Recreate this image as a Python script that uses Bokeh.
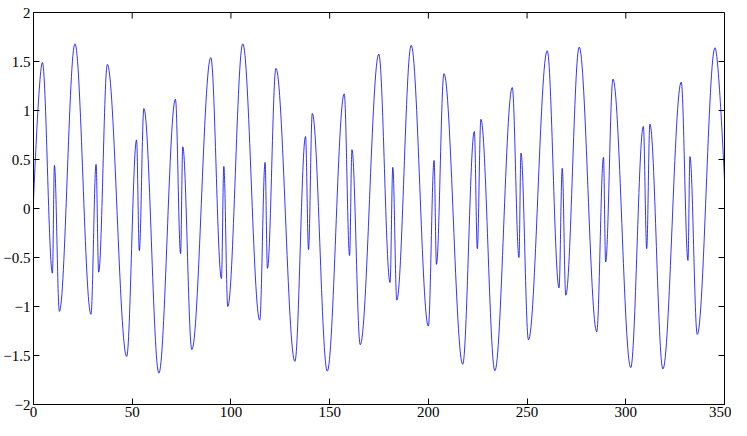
import numpy as np
from bokeh.plotting import figure
from bokeh.models import Range1d, FixedTicker, ColumnDataSource
from bokeh.embed import file_html
from bokeh.resources import INLINE

# turning points of the curve (start, extrema/spike tips, end)
signal_x = [0.0, 4.5, 9.6, 10.6, 13.1, 21.0, 29.1, 31.7, 33.0, 37.4,
            47.2, 52.2, 53.6, 55.9, 63.5, 71.9, 74.5, 75.6, 80.2, 89.8,
            95.2, 96.4, 98.4, 106.0, 114.6, 117.3, 118.5, 122.8, 132.4, 137.8,
            139.3, 141.2, 148.8, 157.4, 160.1, 161.3, 165.5, 174.9, 180.6, 182.0,
            184.0, 191.3, 200.0, 202.9, 204.1, 207.9, 217.4, 223.3, 224.8, 226.6,
            233.7, 242.5, 245.9, 246.9, 250.7, 260.2, 266.2, 267.8, 269.6, 276.4,
            285.3, 288.7, 289.8, 293.5, 302.5, 308.9, 310.6, 312.2, 318.8, 328.1,
            331.5, 332.5, 336.2, 345.2, 350.0]
signal_y = [0.08, 1.49, -0.66, 0.44, -1.05, 1.68, -1.08, 0.45, -0.65, 1.47,
            -1.51, 0.70, -0.43, 1.02, -1.68, 1.115, -0.46, 0.63, -1.44, 1.54,
            -0.715, 0.43, -1.00, 1.68, -1.14, 0.47, -0.61, 1.43, -1.56, 0.735,
            -0.42, 0.97, -1.66, 1.17, -0.48, 0.60, -1.39, 1.575, -0.755, 0.42,
            -0.935, 1.665, -1.20, 0.49, -0.57, 1.376, -1.59, 0.786, -0.41, 0.91,
            -1.655, 1.234, -0.50, 0.566, -1.34, 1.61, -0.81, 0.41, -0.885, 1.647,
            -1.258, 0.522, -0.546, 1.32, -1.624, 0.837, -0.41, 0.861, -1.637, 1.29,
            -0.53, 0.529, -1.285, 1.64, 0.29]

x_ticks = [0, 50, 100, 150, 200, 250, 300, 350]
x_tick_labels = ["0", "50", "100", "150", "200", "250", "300", "350"]
y_ticks = [-2, -1.5, -1, -0.5, 0, 0.5, 1, 1.5, 2]
y_tick_labels = ["\u22122", "\u22121.5", "\u22121", "\u22120.5", "0", "0.5", "1", "1.5", "2"]

FONT = "Liberation Sans Narrow"
FSIZE = "15px"
X_MIN, X_MAX = x_ticks[0], x_ticks[-1]
Y_MIN, Y_MAX = y_ticks[0], y_ticks[-1]

xs = np.array(signal_x, dtype=float)
ys = np.array(signal_y, dtype=float)
k = 0.36
x0, x1 = xs[:-1], xs[1:]
y0, y1 = ys[:-1], ys[1:]
dx = x1 - x0
cx0 = x0 + k * dx
cy0 = y0.copy()
cx1 = x1 - k * dx
cy1 = y1.copy()
# the first and last points are not turning points
cx0[0], cy0[0] = x0[0], y0[0]
cx1[-1], cy1[-1] = x1[-1], y1[-1]
src = ColumnDataSource(dict(x0=x0, y0=y0, x1=x1, y1=y1, cx0=cx0, cy0=cy0, cx1=cx1, cy1=cy1))

p = figure(width=731, height=420, x_range=Range1d(X_MIN, X_MAX), y_range=Range1d(Y_MIN, Y_MAX),
           output_backend="svg", toolbar_location=None,
           min_border_left=33, min_border_right=7, min_border_top=12, min_border_bottom=16)
p.xgrid.visible = False
p.ygrid.visible = False
p.outline_line_color = "black"
p.outline_line_width = 1
p.background_fill_color = "white"
p.border_fill_color = "white"

p.bezier(x0="x0", y0="y0", x1="x1", y1="y1", cx0="cx0", cy0="cy0", cx1="cx1", cy1="cy1",
         source=src, line_color="#0000ff", line_width=0.8)


def style(ax, ticks, labels, standoff):
    ax.ticker = FixedTicker(ticks=ticks)
    ax.major_label_overrides = {t: l for t, l in zip(ticks, labels)}
    ax.major_tick_in = 6
    ax.major_tick_out = 0
    ax.minor_tick_in = 0
    ax.minor_tick_out = 0
    ax.axis_line_color = "black"
    ax.major_tick_line_color = "black"
    ax.major_label_text_font = FONT
    ax.major_label_text_font_size = FSIZE
    ax.major_label_text_color = "black"
    ax.major_label_standoff = standoff


style(p.xaxis[0], x_ticks, x_tick_labels, 2)
style(p.yaxis[0], y_ticks, y_tick_labels, 3)

# inward ticks on the top and right edges of the box (MATLAB style)
p.ray(x=x_ticks, y=[Y_MAX] * len(x_ticks), length=6, length_units="screen",
      angle=-np.pi / 2, line_color="black", line_width=1)
p.ray(x=[X_MAX] * len(y_ticks), y=y_ticks, length=6, length_units="screen",
      angle=np.pi, line_color="black", line_width=1)

open("out.html", "w").write(file_html(p, INLINE))
